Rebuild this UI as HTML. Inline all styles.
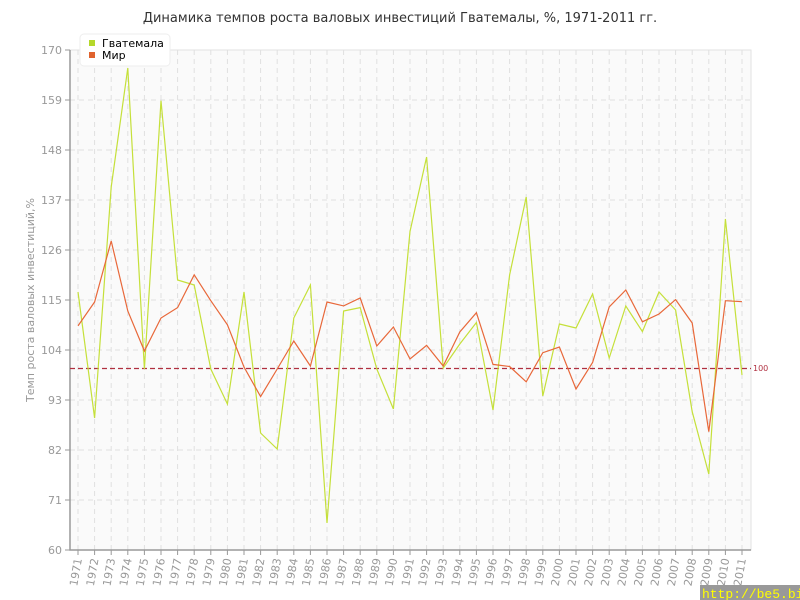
<!DOCTYPE html>
<html><head><meta charset="utf-8"><style>body{margin:0;background:#fff}svg{display:block;font-family:"DejaVu Sans","Liberation Sans",sans-serif}</style></head><body>
<svg width="800" height="600" xmlns="http://www.w3.org/2000/svg">
<rect width="800" height="600" fill="#fff"/>
<text x="400" y="22" text-anchor="middle" font-size="13" fill="#333">Динамика темпов роста валовых инвестиций Гватемалы, %, 1971-2011 гг.</text>
<rect x="70" y="50" width="681" height="500" fill="#fafafa" stroke="#e2e2e2"/>
<g stroke="#e0e0e0" stroke-dasharray="5,4" stroke-width="1" fill="none">
<path d="M70 100H751M70 150H751M70 200H751M70 250H751M70 300H751M70 350H751M70 400H751M70 450H751M70 500H751"/>
<path d="M78 50V550M94.6 50V550M111.2 50V550M127.8 50V550M144.4 50V550M161 50V550M177.6 50V550M194.2 50V550M210.8 50V550M227.4 50V550M244 50V550M260.6 50V550M277.2 50V550M293.8 50V550M310.4 50V550M327 50V550M343.6 50V550M360.2 50V550M376.8 50V550M393.4 50V550M410 50V550M426.6 50V550M443.2 50V550M459.8 50V550M476.4 50V550M493 50V550M509.6 50V550M526.2 50V550M542.8 50V550M559.4 50V550M576 50V550M592.6 50V550M609.2 50V550M625.8 50V550M642.4 50V550M659 50V550M675.6 50V550M692.2 50V550M708.8 50V550M725.4 50V550M742 50V550"/>
</g>
<g stroke="#999" stroke-width="1.5" fill="none"><path d="M70 50V550H751"/></g>
<g stroke="#999" fill="none"><path d="M65 50H70M65 100H70M65 150H70M65 200H70M65 250H70M65 300H70M65 350H70M65 400H70M65 450H70M65 500H70M65 550H70"/>
<path d="M78 550v5M94.6 550v5M111.2 550v5M127.8 550v5M144.4 550v5M161 550v5M177.6 550v5M194.2 550v5M210.8 550v5M227.4 550v5M244 550v5M260.6 550v5M277.2 550v5M293.8 550v5M310.4 550v5M327 550v5M343.6 550v5M360.2 550v5M376.8 550v5M393.4 550v5M410 550v5M426.6 550v5M443.2 550v5M459.8 550v5M476.4 550v5M493 550v5M509.6 550v5M526.2 550v5M542.8 550v5M559.4 550v5M576 550v5M592.6 550v5M609.2 550v5M625.8 550v5M642.4 550v5M659 550v5M675.6 550v5M692.2 550v5M708.8 550v5M725.4 550v5M742 550v5"/></g>
<g font-size="11" fill="#999" text-anchor="end">
<text x="62" y="54">170</text><text x="62" y="104">159</text><text x="62" y="154">148</text><text x="62" y="204">137</text><text x="62" y="254">126</text><text x="62" y="304">115</text><text x="62" y="354">104</text><text x="62" y="404">93</text><text x="62" y="454">82</text><text x="62" y="504">71</text><text x="62" y="554">60</text>
</g>
<text transform="translate(34,300) rotate(-90)" text-anchor="middle" font-size="11" fill="#999">Темп роста валовых инвестиций,%</text>
<g font-size="11" fill="#999" text-anchor="end">
<text transform="translate(82,559) rotate(-80)">1971</text><text transform="translate(98.6,559) rotate(-80)">1972</text><text transform="translate(115.2,559) rotate(-80)">1973</text><text transform="translate(131.8,559) rotate(-80)">1974</text><text transform="translate(148.4,559) rotate(-80)">1975</text><text transform="translate(165,559) rotate(-80)">1976</text><text transform="translate(181.6,559) rotate(-80)">1977</text><text transform="translate(198.2,559) rotate(-80)">1978</text><text transform="translate(214.8,559) rotate(-80)">1979</text><text transform="translate(231.4,559) rotate(-80)">1980</text><text transform="translate(248,559) rotate(-80)">1981</text><text transform="translate(264.6,559) rotate(-80)">1982</text><text transform="translate(281.2,559) rotate(-80)">1983</text><text transform="translate(297.8,559) rotate(-80)">1984</text><text transform="translate(314.4,559) rotate(-80)">1985</text><text transform="translate(331,559) rotate(-80)">1986</text><text transform="translate(347.6,559) rotate(-80)">1987</text><text transform="translate(364.2,559) rotate(-80)">1988</text><text transform="translate(380.8,559) rotate(-80)">1989</text><text transform="translate(397.4,559) rotate(-80)">1990</text><text transform="translate(414,559) rotate(-80)">1991</text><text transform="translate(430.6,559) rotate(-80)">1992</text><text transform="translate(447.2,559) rotate(-80)">1993</text><text transform="translate(463.8,559) rotate(-80)">1994</text><text transform="translate(480.4,559) rotate(-80)">1995</text><text transform="translate(497,559) rotate(-80)">1996</text><text transform="translate(513.6,559) rotate(-80)">1997</text><text transform="translate(530.2,559) rotate(-80)">1998</text><text transform="translate(546.8,559) rotate(-80)">1999</text><text transform="translate(563.4,559) rotate(-80)">2000</text><text transform="translate(580,559) rotate(-80)">2001</text><text transform="translate(596.6,559) rotate(-80)">2002</text><text transform="translate(613.2,559) rotate(-80)">2003</text><text transform="translate(629.8,559) rotate(-80)">2004</text><text transform="translate(646.4,559) rotate(-80)">2005</text><text transform="translate(663,559) rotate(-80)">2006</text><text transform="translate(679.6,559) rotate(-80)">2007</text><text transform="translate(696.2,559) rotate(-80)">2008</text><text transform="translate(712.8,559) rotate(-80)">2009</text><text transform="translate(729.4,559) rotate(-80)">2010</text><text transform="translate(746,559) rotate(-80)">2011</text>
</g>
<path d="M70 368.5H751" stroke="#b03040" stroke-dasharray="5,3" stroke-width="1.2" fill="none"/>
<text x="753" y="371" font-size="8" fill="#b03040">100</text>
<polyline fill="none" stroke="#c5e03a" stroke-width="1.2" points="78,292 94.6,418 111.2,187 127.8,68 144.4,369 161,100.7 177.6,280 194.2,285 210.8,369 227.4,404 244,292 260.6,433 277.2,449 293.8,318 310.4,285 327,523 343.6,311 360.2,307.6 376.8,369 393.4,409 410,231.5 426.6,157 443.2,368 459.8,344 476.4,322.5 493,410 509.6,275 526.2,197 542.8,396 559.4,324 576,328 592.6,294 609.2,358 625.8,306 642.4,331.6 659,292 675.6,310 692.2,411.7 708.8,474 725.4,219 742,375"/>
<polyline fill="none" stroke="#e8683a" stroke-width="1.2" points="78,325.9 94.6,302 111.2,241 127.8,311 144.4,351 161,318 177.6,307.6 194.2,274.8 210.8,300.7 227.4,324.8 244,367 260.6,396.6 277.2,369 293.8,341 310.4,366 327,302 343.6,305.9 360.2,298 376.8,346 393.4,327 410,359 426.6,345.4 443.2,366 459.8,332 476.4,312.7 493,364.4 509.6,366.5 526.2,381.8 542.8,352.7 559.4,347 576,389 592.6,362.5 609.2,307 625.8,290 642.4,321.8 659,314 675.6,299.6 692.2,323 708.8,431.7 725.4,300.7 742,301.7"/>
<rect x="80" y="34" width="90" height="32" rx="4" fill="#fff" stroke="#eee"/>
<rect x="89" y="40" width="6" height="6" fill="#b5d82a"/>
<rect x="89" y="52" width="6" height="6" fill="#e0632e"/>
<text x="102" y="47" font-size="11" fill="#000">Гватемала</text>
<text x="102" y="59" font-size="11" fill="#000">Мир</text>
<rect x="700" y="585" width="100" height="15" fill="#999"/>
<text x="702" y="598" font-size="13" fill="#ffff00" font-family="Liberation Mono, monospace">http://be5.biz/</text>
</svg>
</body></html>
